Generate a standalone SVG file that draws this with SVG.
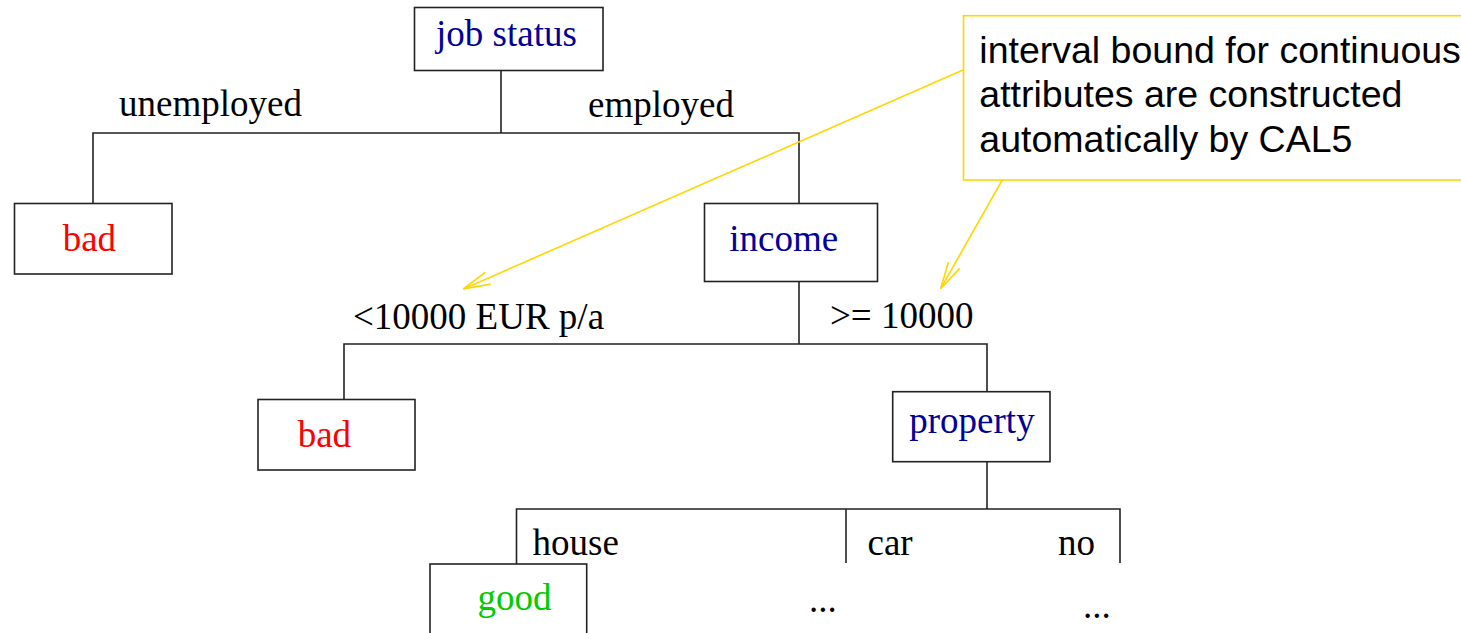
<svg xmlns="http://www.w3.org/2000/svg" width="1461" height="633" viewBox="0 0 1461 633">
<style>
.box{fill:#fff;stroke:#222;stroke-width:1.6}
.edge{fill:none;stroke:#222;stroke-width:1.6}
.t{font-family:"Liberation Serif","Times New Roman",serif;font-size:37px;fill:#000}
.attr{fill:#000099}
.bad{fill:#ff0000}
.good{fill:#00cc00}
.note{fill:#fff;stroke:#ffd700;stroke-width:1.6}
.nt{font-family:"Liberation Sans",Arial,sans-serif;font-size:37.5px;fill:#000}
.ptr{fill:none;stroke:#ffd700;stroke-width:1.6}
</style>
<defs>
<marker id="v" markerUnits="userSpaceOnUse" markerWidth="40" markerHeight="20" viewBox="-30 -10 40 20" refX="0" refY="0" orient="auto">
<path d="M-27,-6.5 L0,0 L-27,6.5" fill="none" stroke="#ffd700" stroke-width="1.6"/>
</marker>
</defs>
<g id="connectors">
<path class="edge" d="M501,70 V133"/>
<path class="edge" d="M93,203 V133 H799 V203"/>
<path class="edge" d="M799,282 V344"/>
<path class="edge" d="M344,399 V344 H987 V391"/>
<path class="edge" d="M987,462 V509"/>
<path class="edge" d="M516.5,564 V509 H1120 V563"/>
<path class="edge" d="M846,509 V563"/>
</g>
<g id="edge-labels">
<text class="t" x="119" y="116">unemployed</text>
<text class="t" x="588" y="117">employed</text>
<text class="t" x="353" y="329">&lt;10000 EUR p/a</text>
<text class="t" x="830" y="328">&gt;= 10000</text>
<text class="t" x="532.5" y="555">house</text>
<text class="t" x="867.5" y="555">car</text>
<text class="t" x="1058" y="555">no</text>
</g>
<g id="node-job-status">
<rect class="box" x="414.5" y="7.5" width="188.5" height="63"/>
<text class="t attr" x="436" y="46">job status</text>
</g>
<g id="node-bad-1">
<rect class="box" x="14.5" y="203.5" width="157.5" height="70.5"/>
<text class="t bad" x="62.7" y="251">bad</text>
</g>
<g id="node-income">
<rect class="box" x="704.5" y="203.5" width="173" height="78"/>
<text class="t attr" x="729.3" y="250.7">income</text>
</g>
<g id="node-bad-2">
<rect class="box" x="258" y="399.5" width="157" height="70.5"/>
<text class="t bad" x="297.7" y="446.7">bad</text>
</g>
<g id="node-property">
<rect class="box" x="892.7" y="391.7" width="157.3" height="70"/>
<text class="t attr" x="909.3" y="433">property</text>
</g>
<g id="node-good">
<rect class="box" x="430" y="564" width="156.7" height="80"/>
<text class="t good" x="477.4" y="610">good</text>
</g>
<g id="node-more-car">
<text class="t" x="809" y="612">...</text>
</g>
<g id="node-more-no">
<text class="t" x="1083" y="618">...</text>
</g>
<g id="callout-pointers">
<path class="ptr" d="M963,70 L463.3,289" marker-end="url(#v)"/>
<path class="ptr" d="M1002.3,180 L940.7,288.7" marker-end="url(#v)"/>
</g>
<g id="callout">
<rect class="note" x="963.5" y="15.7" width="520" height="164.3"/>
<text class="nt" x="979.3" y="62.7">interval bound for continuous</text>
<text class="nt" x="979.3" y="107.3">attributes are constructed</text>
<text class="nt" x="979.3" y="151.7">automatically by CAL5</text>
</g>
</svg>
